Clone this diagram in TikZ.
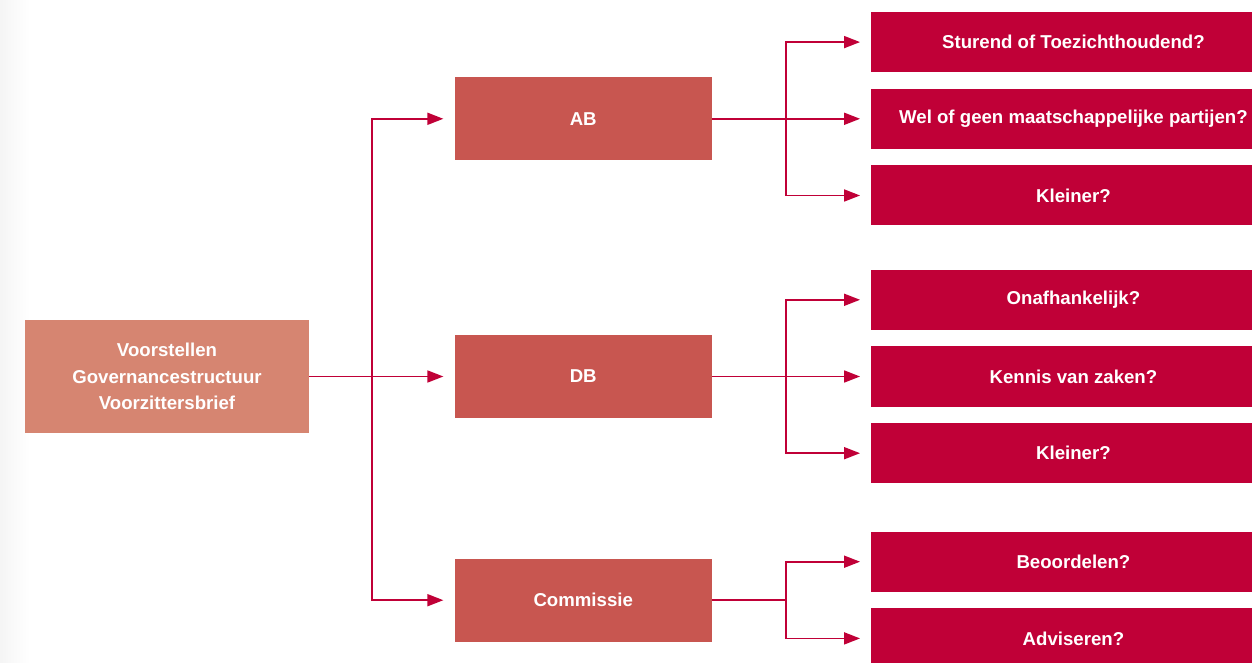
\documentclass[tikz,border=0pt]{standalone}
\usepackage{fontspec}
\setmainfont{Liberation Sans}
\usetikzlibrary{%
	positioning,
	calc,
	arrows.meta
}
\definecolor{rootred}{RGB}{214,133,113}
\definecolor{branchred}{RGB}{200,86,80}
\definecolor{leafred}{RGB}{192,0,55}

\begin{document}
\begin{tikzpicture}[
		SRoot/.style={fill=rootred,text=white,font=\fontsize{10.6}{15}\selectfont\bfseries,minimum width=5.68cm,minimum height=2.26cm,align=center,inner sep=0pt},
		SBranch/.style={fill=branchred,text=white,font=\fontsize{10.6}{15}\selectfont\bfseries,minimum width=5.14cm,minimum height=1.66cm,inner sep=0pt},
		SLeaf/.style={fill=leafred,text=white,font=\fontsize{10.6}{15}\selectfont\bfseries,minimum width=8.08cm,minimum height=1.2cm,inner sep=0pt},
		link/.style={draw=leafred,line width=1pt,-{Triangle[length=0.32cm,width=0.24cm]},shorten >=0.22cm},
		trunk/.style={draw=leafred,line width=1pt}
	]
	\useasboundingbox (0,0) rectangle (25.04,-13.26);
	\shade[left color=black!4,right color=white] (0,0) rectangle (0.6,-13.26);

		\node(root) [SRoot] at (3.34,-7.53) {Voorstellen\\Governancestructuur\\Voorzittersbrief};
		\node(DB) [SBranch, right= 2.9cm of root] {DB};
		\node(AB) [SBranch, above= 3.48cm of DB] {AB};
		\node(Commissie) [SBranch, below= 2.8cm of DB] {Commissie};

		\coordinate(splitL) at ($(root.east)+(1.26,0)$);
		\path[link] (root) -- (DB);
		\path[link] (splitL) |- (AB);
		\path[link] (splitL) |- (Commissie);

		% AB
		\node(partijen) [SLeaf, right= 3.18cm of AB] {Wel of geen maatschappelijke partijen?};
		\node(sturend) [SLeaf, above= 0.32cm of partijen] {Sturend of Toezichthoudend?};
		\node(kleinerAB) [SLeaf, below= 0.32cm of partijen] {Kleiner?};
		\coordinate(splitAB) at ($(AB.east)+(1.48,0)$);
		\path[link] (AB) -- (partijen);
		\path[link] (splitAB) |- (sturend);
		\path[link] (splitAB) |- (kleinerAB);

		% DB
		\node(kennis) [SLeaf, right= 3.18cm of DB] {Kennis van zaken?};
		\node(onafh) [SLeaf, above= 0.32cm of kennis] {Onafhankelijk?};
		\node(kleinerDB) [SLeaf, below= 0.32cm of kennis] {Kleiner?};
		\coordinate(splitDB) at ($(DB.east)+(1.48,0)$);
		\path[link] (DB) -- (kennis);
		\path[link] (splitDB) |- (onafh);
		\path[link] (splitDB) |- (kleinerDB);

		% Commissie
		\node(beoordelen) [SLeaf, right= 3.18cm of Commissie, yshift=0.77cm] {Beoordelen?};
		\node(adviseren) [SLeaf, below= 0.32cm of beoordelen] {Adviseren?};
		\coordinate(splitC) at ($(Commissie.east)+(1.48,0)$);
		\path[trunk] (Commissie) -- (splitC);
		\path[link] (splitC) |- (beoordelen);
		\path[link] (splitC) |- (adviseren);

	\end{tikzpicture}
\end{document}
